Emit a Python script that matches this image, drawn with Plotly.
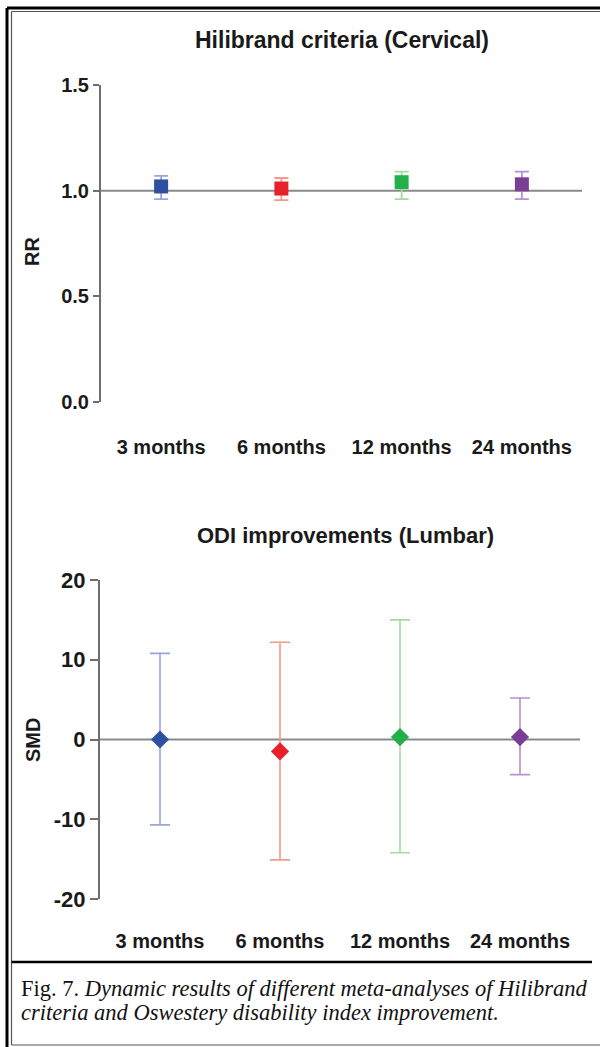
import plotly.graph_objects as go

# ---------------- data ----------------
categories = ["3 months", "6 months", "12 months", "24 months"]
cat_pos = [0, 1, 2, 3]

rr_est = [1.02, 1.01, 1.04, 1.03]
rr_low = [0.96, 0.955, 0.96, 0.96]
rr_high = [1.07, 1.06, 1.09, 1.09]
rr_ticks = [0.0, 0.5, 1.0, 1.5]
rr_ticktext = ["0.0", "0.5", "1.0", "1.5"]
rr_null = 1.0

smd_est = [0.0, -1.5, 0.3, 0.3]
smd_low = [-10.7, -15.1, -14.2, -4.4]
smd_high = [10.8, 12.2, 15.0, 5.2]
smd_ticks = [-20, -10, 0, 10, 20]
smd_ticktext = ["-20", "-10", "0", "10", "20"]
smd_null = 0.0

top_title = "Hilibrand criteria (Cervical)"
bottom_title = "ODI improvements (Lumbar)"
caption_1 = "Fig. 7. <i>Dynamic results of different meta-analyses of Hilibrand</i>"
caption_2 = "<i>criteria and Oswestery disability index improvement.</i>"

marker_colors = ["#2f4fa3", "#e8202a", "#22b04b", "#7b3d96"]
bar_colors = ["#9da4dc", "#f5998a", "#a6daa2", "#b890cf"]

W, H = 600, 1047
def px(x):
    return x / W
def py(y):
    return 1 - y / H

SANS = "Liberation Sans, Arial, Helvetica, sans-serif"
SERIF = "Liberation Serif, Times New Roman, serif"

fig = go.Figure()

for i in range(len(categories)):
    fig.add_trace(go.Scatter(
        x=[cat_pos[i]], y=[rr_est[i]], mode="markers",
        marker=dict(symbol="square", size=14, color=marker_colors[i]),
        error_y=dict(type="data", symmetric=False,
                     array=[rr_high[i] - rr_est[i]],
                     arrayminus=[rr_est[i] - rr_low[i]],
                     color=bar_colors[i], thickness=1.8, width=7),
        xaxis="x", yaxis="y", showlegend=False, hoverinfo="skip"))
    fig.add_trace(go.Scatter(
        x=[cat_pos[i]], y=[smd_est[i]], mode="markers",
        marker=dict(symbol="diamond", size=14, color=marker_colors[i]),
        error_y=dict(type="data", symmetric=False,
                     array=[smd_high[i] - smd_est[i]],
                     arrayminus=[smd_est[i] - smd_low[i]],
                     color=bar_colors[i], thickness=1.6, width=10),
        xaxis="x2", yaxis="y2", showlegend=False, hoverinfo="skip"))

axis_col = "#6e6e6e"
xcommon = dict(range=[-0.5, 3.5], tickvals=cat_pos, ticktext=categories,
               showline=False, showgrid=False, zeroline=False, ticks="",
               tickfont=dict(family=SANS, size=20, color="#1a1a1a", weight="bold"),
               fixedrange=True, automargin=False)

fig.update_layout(
    width=W, height=H, autosize=False,
    margin=dict(l=0, r=0, t=0, b=0, pad=0, autoexpand=False),
    paper_bgcolor="white", plot_bgcolor="rgba(0,0,0,0)",
    xaxis=dict(domain=[px(101), px(582)], anchor="y", ticklabelstandoff=31, **xcommon),
    yaxis=dict(domain=[py(402), py(85)], range=[0, 1.5], tickvals=rr_ticks,
               ticktext=rr_ticktext, showline=True, linecolor=axis_col, linewidth=2,
               ticks="outside", ticklen=6, tickwidth=2, tickcolor=axis_col,
               showgrid=False, zeroline=False, anchor="x", automargin=False,
               fixedrange=True,
               tickfont=dict(family=SANS, size=20, color="#1a1a1a", weight="bold")),
    xaxis2=dict(domain=[px(100), px(580)], anchor="y2", ticklabelstandoff=28, **xcommon),
    yaxis2=dict(domain=[py(899), py(580)], range=[-20, 20], tickvals=smd_ticks,
                ticktext=smd_ticktext, showline=True, linecolor=axis_col, linewidth=2,
                ticks="outside", ticklen=8, tickwidth=2, tickcolor=axis_col,
                showgrid=False, zeroline=False, anchor="x2", automargin=False,
                fixedrange=True,
                tickfont=dict(family=SANS, size=22, color="#1a1a1a", weight="bold")),
)

# null lines
fig.add_shape(type="line", xref="x domain", yref="y", x0=0, x1=1, y0=rr_null, y1=rr_null,
              line=dict(color="#8a8a8a", width=2), layer="below")
fig.add_shape(type="line", xref="x2 domain", yref="y2", x0=0, x1=1, y0=smd_null, y1=smd_null,
              line=dict(color="#8a8a8a", width=2), layer="below")

# frame
fig.add_shape(type="line", xref="paper", yref="paper", x0=px(7), x1=px(7), y0=py(8), y1=py(1047),
              line=dict(color="black", width=3))
fig.add_shape(type="line", xref="paper", yref="paper", x0=px(7), x1=px(600), y0=py(8), y1=py(8),
              line=dict(color="black", width=3))
fig.add_shape(type="line", xref="paper", yref="paper", x0=px(11.5), x1=px(11.5), y0=py(11.5), y1=py(1045),
              line=dict(color="#555555", width=1.2))
fig.add_shape(type="line", xref="paper", yref="paper", x0=px(11.5), x1=px(600), y0=py(11.5), y1=py(11.5),
              line=dict(color="#555555", width=1.2))
fig.add_shape(type="line", xref="paper", yref="paper", x0=px(11.5), x1=px(600), y0=py(1045), y1=py(1045),
              line=dict(color="#555555", width=1.2))
fig.add_shape(type="line", xref="paper", yref="paper", x0=px(11.5), x1=px(592), y0=py(962), y1=py(962),
              line=dict(color="black", width=2.5))

# titles
ann = dict(xref="paper", yref="paper", showarrow=False, xanchor="center", yanchor="middle")
fig.add_annotation(x=px(342), y=py(40), text=top_title,
                   font=dict(family=SANS, size=23, color="#1a1a1a", weight="bold"), **ann)
fig.add_annotation(x=px(345), y=py(535), text=bottom_title,
                   font=dict(family=SANS, size=22, color="#1a1a1a", weight="bold"), **ann)
fig.add_annotation(x=px(32), y=py(252), text="RR", textangle=-90,
                   font=dict(family=SANS, size=20, color="#1a1a1a", weight="bold"), **ann)
fig.add_annotation(x=px(33), y=py(740), text="SMD", textangle=-90,
                   font=dict(family=SANS, size=20, color="#1a1a1a", weight="bold"), **ann)

# caption
cap = dict(xref="paper", yref="paper", showarrow=False, xanchor="left", yanchor="middle")
fig.add_annotation(x=px(19), y=py(988), text=caption_1,
                   font=dict(family=SERIF, size=22.5, color="#111111"), **cap)
fig.add_annotation(x=px(19), y=py(1012), text=caption_2,
                   font=dict(family=SERIF, size=22.5, color="#111111"), **cap)

fig.write_html("out.html", config={"displayModeBar": False, "staticPlot": True},
               post_script="document.body.style.margin='0';document.body.style.overflow='hidden';")
